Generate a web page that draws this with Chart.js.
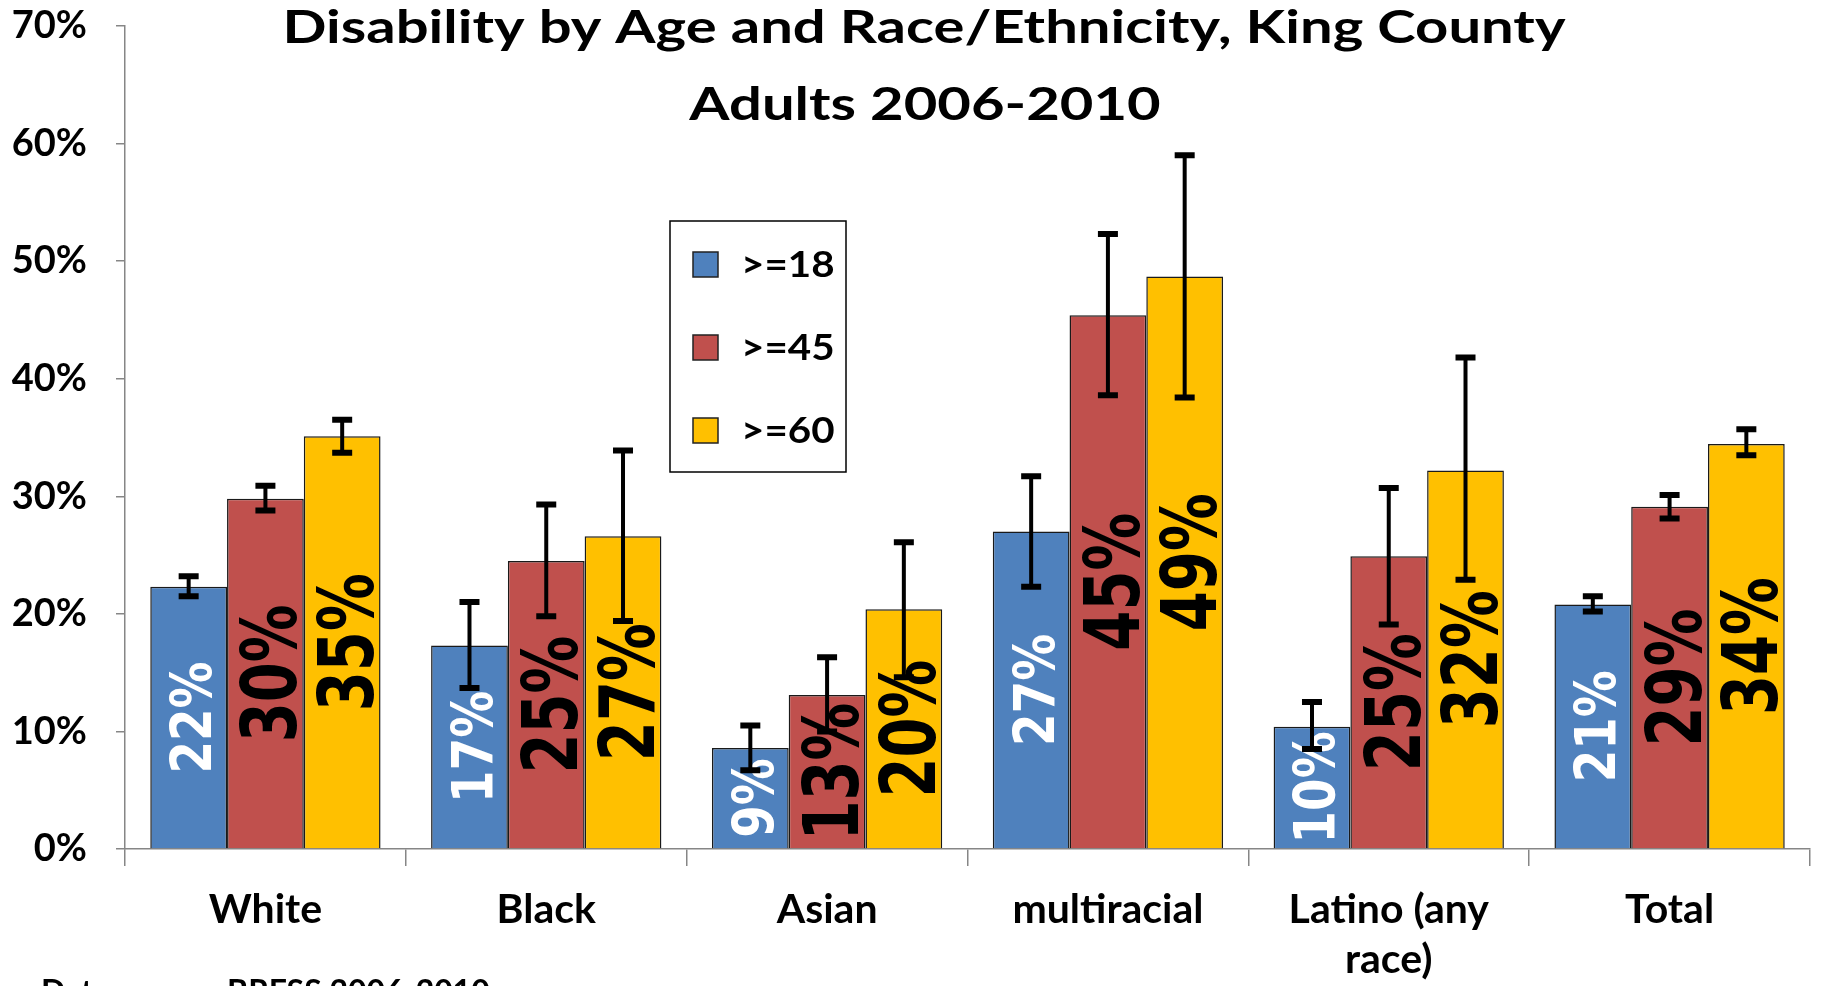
<!DOCTYPE html>
<html>
<head>
<meta charset="utf-8">
<title>Disability by Age and Race/Ethnicity</title>
<script src="https://cdn.jsdelivr.net/npm/chart.js@4.4.1/dist/chart.umd.min.js"></script>
<style>
  html, body { margin: 0; padding: 0; background: #fff; }
  #wrap { width: 1822px; height: 986px; position: relative; }
</style>
</head>
<body>
<div id="wrap"><canvas id="disabilityChart" width="1822" height="986"></canvas></div>
<script>
// data (percent of adults)
const categories = ['White', 'Black', 'Asian', 'multiracial', ['Latino (any', 'race)'], 'Total'];
const seriesNames = ['>=18', '>=45', '>=60'];
const seriesColors = ['#4F81BD', '#C0504D', '#FFC000'];
const labelColors = ['#FFFFFF', '#000000', '#000000'];

const age18 = [22.3, 17.3, 8.6, 27.0, 10.4, 20.8];
const age18Low = [21.5, 13.7, 6.7, 22.3, 8.5, 20.2];
const age18High = [23.2, 21.0, 10.5, 31.7, 12.5, 21.5];

const age45 = [29.8, 24.5, 13.1, 45.4, 24.9, 29.1];
const age45Low = [28.8, 19.8, 10.0, 38.6, 19.1, 28.1];
const age45High = [30.9, 29.3, 16.3, 52.3, 30.7, 30.1];

const age60 = [35.1, 26.6, 20.4, 48.7, 32.2, 34.45];
const age60Low = [33.7, 19.4, 14.6, 38.4, 22.9, 33.5];
const age60High = [36.5, 33.9, 26.1, 59.0, 41.8, 35.7];

const yMin = 0;
const yMax = 70;
const yStep = 10;

const titleLines = ['Disability by Age and Race/Ethnicity, King County', 'Adults 2006-2010'];
const sourceNote = 'Data source: BRFSS 2006-2010';

const values = [age18, age45, age60];
const lows = [age18Low, age45Low, age60Low];
const highs = [age18High, age45High, age60High];

const axisGray = '#868686';
const uiFont = 'Lato, "Open Sans", sans-serif';
const barLabelFont = '"DejaVu Sans Condensed", "DejaVu Sans", sans-serif';

// text drawn a bit wider than the font, like the stretched original
function wideText(ctx, text, x, y, stretch) {
    ctx.save();
    ctx.translate(x, y);
    ctx.scale(stretch, 1);
    ctx.fillText(text, 0, 0);
    ctx.restore();
}

// 1. value labels inside bars + error bars
const barExtras = {
    id: 'barExtras',
    afterDatasetsDraw(chart) {
        const ctx = chart.ctx;
        const yScale = chart.scales.y;

        chart.data.datasets.forEach((ds, di) => {
            const meta = chart.getDatasetMeta(di);
            const size = di === 0 ? 52 : 64;
            const thick = di === 0 ? 1.08 : 1.2;
            meta.data.forEach((bar, i) => {
                const mid = (bar.y + bar.base) / 2;
                ctx.save();
                ctx.translate(bar.x + 3, mid);
                ctx.rotate(-Math.PI / 2);
                ctx.scale(1, thick);
                ctx.font = 'bold ' + size + 'px ' + barLabelFont;
                ctx.fillStyle = labelColors[di];
                ctx.textAlign = 'center';
                ctx.textBaseline = 'alphabetic';
                ctx.fillText(Math.round(ds.data[i]) + '%', 0, size * 0.73 / 2);
                ctx.restore();
            });
        });

        // error bars on top
        chart.data.datasets.forEach((ds, di) => {
            const meta = chart.getDatasetMeta(di);
            meta.data.forEach((bar, i) => {
                const yHi = yScale.getPixelForValue(highs[di][i]);
                const yLo = yScale.getPixelForValue(lows[di][i]);
                ctx.save();
                ctx.strokeStyle = '#000';
                ctx.lineWidth = 4;
                ctx.beginPath();
                ctx.moveTo(bar.x, yHi);
                ctx.lineTo(bar.x, yLo);
                ctx.stroke();
                ctx.lineWidth = 6;
                ctx.beginPath();
                ctx.moveTo(bar.x - 10, yHi);
                ctx.lineTo(bar.x + 10, yHi);
                ctx.moveTo(bar.x - 10, yLo);
                ctx.lineTo(bar.x + 10, yLo);
                ctx.stroke();
                ctx.restore();
            });
        });
    }
};

// 2. title, boxed legend and source note
const decorations = {
    id: 'decorations',
    afterDraw(chart) {
        const ctx = chart.ctx;
        ctx.save();

        ctx.fillStyle = '#000';
        ctx.font = 'bold 46px ' + uiFont;
        ctx.textAlign = 'center';
        ctx.textBaseline = 'alphabetic';
        wideText(ctx, titleLines[0], 924, 43, 1.26);
        wideText(ctx, titleLines[1], 925, 120, 1.26);

        // legend box
        ctx.lineWidth = 1.5;
        ctx.strokeStyle = '#000';
        ctx.strokeRect(670, 221, 176, 251);
        chart.data.datasets.forEach((ds, di) => {
            const cy = 264 + di * 83;
            ctx.fillStyle = ds.backgroundColor;
            ctx.fillRect(693, cy - 12, 25, 25);
            ctx.strokeStyle = '#222';
            ctx.lineWidth = 1.5;
            ctx.strokeRect(693, cy - 12, 25, 25);
            ctx.fillStyle = '#000';
            ctx.font = 'bold 36px ' + uiFont;
            ctx.textAlign = 'left';
            ctx.textBaseline = 'middle';
            wideText(ctx, ds.label, 741, cy + 1, 1.12);
        });

        ctx.font = 'bold 32px ' + uiFont;
        ctx.textAlign = 'left';
        ctx.textBaseline = 'top';
        ctx.fillText(sourceNote, 41, 977);
        ctx.restore();
    }
};

function buildDatasets() {
    return seriesNames.map((name, i) => ({
        label: name,
        data: values[i],
        backgroundColor: seriesColors[i],
        borderColor: '#1a1a1a',
        borderWidth: 1.5,
        categoryPercentage: 0.82,
        barPercentage: 1.0
    }));
}

const chart = new Chart(document.getElementById('disabilityChart'), {
    type: 'bar',
    data: { labels: categories, datasets: buildDatasets() },
    options: {
        responsive: false,
        animation: false,
        layout: { padding: { top: 26, right: 12, left: 0, bottom: 0 } },
        plugins: {
            legend: { display: false },
            title: { display: false },
            tooltip: { enabled: false }
        },
        scales: {
            x: {
                grid: { offset: true, drawOnChartArea: false, tickLength: 17, color: axisGray, lineWidth: 1.5 },
                border: { color: axisGray, width: 1.5 },
                ticks: {
                    color: '#000',
                    padding: 19,
                    maxRotation: 0,
                    font: { family: uiFont, size: 41, weight: 'bold', lineHeight: 1.22 }
                },
                afterFit(scale) { scale.height = 137; }
            },
            y: {
                min: yMin,
                max: yMax,
                grid: { drawOnChartArea: false, tickLength: 9, color: axisGray, lineWidth: 1.5 },
                border: { color: axisGray, width: 1.5 },
                ticks: {
                    stepSize: yStep,
                    color: '#000',
                    padding: 29,
                    font: { family: uiFont, size: 38, weight: 'bold' },
                    callback: v => v + '%'
                },
                // tick padding would otherwise push the plot top down
                afterFit(scale) {
                    scale.width = 125;
                    scale.paddingTop = 0;
                    scale.paddingBottom = 0;
                }
            }
        }
    },
    plugins: [barExtras, decorations]
});
</script>
</body>
</html>
